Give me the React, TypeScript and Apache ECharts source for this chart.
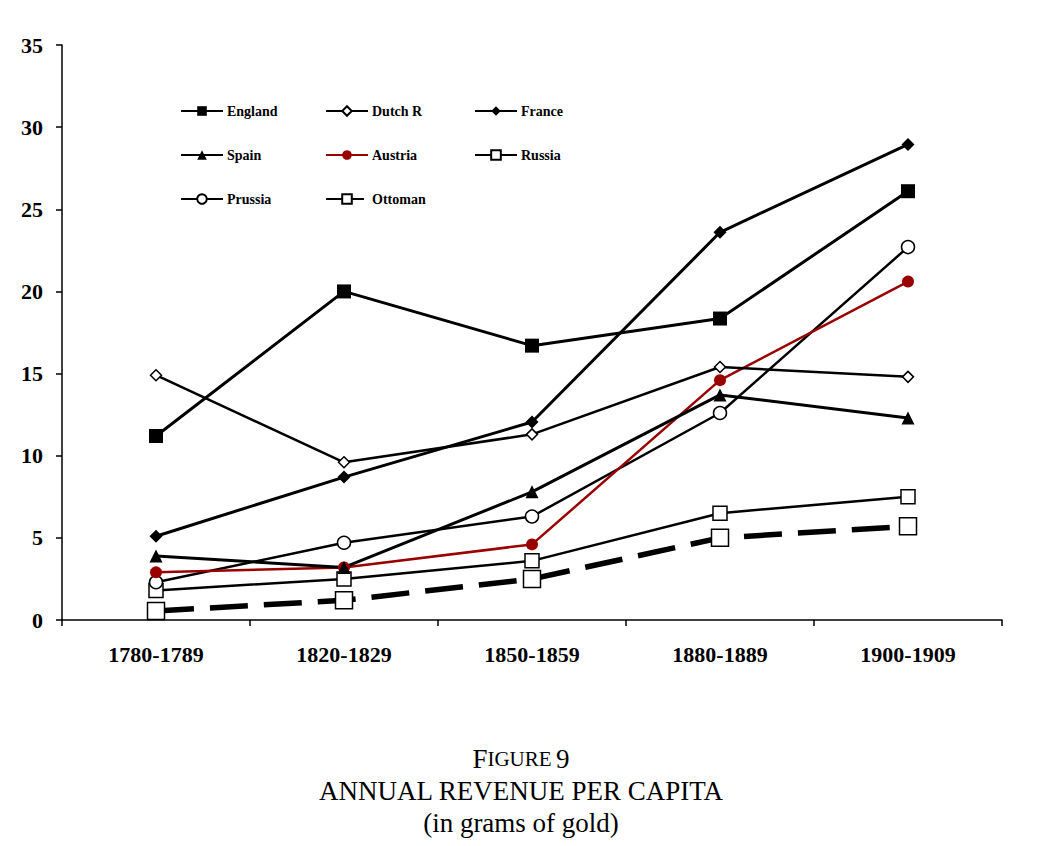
import React, { useEffect, useRef } from "react";
import * as echarts from "echarts";

const categories = ["1780-1789", "1820-1829", "1850-1859", "1880-1889", "1900-1909"];
const england = [11.2, 20.0, 16.7, 18.35, 26.1];
const dutchR = [14.9, 9.6, 11.3, 15.4, 14.8];
const france = [5.1, 8.7, 12.05, 23.6, 28.95];
const spain = [3.9, 3.2, 7.8, 13.7, 12.3];
const austria = [2.9, 3.2, 4.6, 14.6, 20.6];
const prussia = [2.3, 4.7, 6.3, 12.6, 22.7];
const russia = [1.8, 2.5, 3.6, 6.5, 7.5];
const ottoman = [0.55, 1.2, 2.5, 5.0, 5.7];
const yTicks = { min: 0, max: 35, interval: 5 };

const SERIF = "'Liberation Serif', 'DejaVu Serif', serif";
const RED = "#990000";

export default function App() {
  const ref = useRef<HTMLDivElement>(null);
  useEffect(() => {
    if (!ref.current) return;
    const chart = echarts.init(ref.current, null, { renderer: "svg" });
    const mk = (
      name: string,
      data: number[],
      symbol: string,
      size: number,
      color: string,
      fill: string,
      width: number,
      dashed?: number[]
    ) => ({
      name,
      type: "line",
      data,
      symbol,
      symbolSize: size,
      lineStyle: { color, width, type: dashed ? dashed : "solid" },
      itemStyle: { color: fill, borderColor: color, borderWidth: fill === "#ffffff" ? 1.5 : 0 },
      emphasis: { disabled: true },
      z: 2,
    });
    const legendBase = {
      orient: "vertical",
      top: 104,
      padding: 0,
      itemWidth: 42,
      itemHeight: 12,
      itemGap: 30,
      textStyle: { fontFamily: SERIF, fontWeight: "bold", fontSize: 14, color: "#000", padding: [0, 0, 0, -1] },
      selectedMode: false,
    };
    chart.setOption({
      animation: false,
      backgroundColor: "#ffffff",
      grid: { left: 62, right: 40, top: 45, bottom: 226, containLabel: false },
      legend: [
        { ...legendBase, left: 180, data: ["England", "Spain", "Prussia"] },
        { ...legendBase, left: 325, data: ["Dutch R", "Austria", "Ottoman"] },
        { ...legendBase, left: 474, data: ["France", "Russia"] },
      ],
      title: {
        left: "center",
        top: 738,
        text: "{b|F}{s|IGURE} {b|9}\n{b|ANNUAL REVENUE PER CAPITA}\n{b|(in grams of gold)}",
        textStyle: {
          fontFamily: SERIF,
          fontWeight: "normal",
          color: "#000",
          lineHeight: 32,
          rich: {
            b: { fontFamily: SERIF, fontSize: 27, color: "#000", lineHeight: 32 },
            s: { fontFamily: SERIF, fontSize: 21, color: "#000", lineHeight: 32 },
          },
        },
      },
      xAxis: {
        type: "category",
        data: categories,
        boundaryGap: true,
        axisLine: { lineStyle: { color: "#000", width: 1.5 } },
        axisTick: { show: true, length: 6, inside: false, lineStyle: { color: "#000", width: 1.5 } },
        axisLabel: { fontFamily: SERIF, fontWeight: "bold", fontSize: 22, color: "#000", margin: 23 },
        splitLine: { show: false },
      },
      yAxis: {
        type: "value",
        min: yTicks.min,
        max: yTicks.max,
        interval: yTicks.interval,
        axisLine: { show: true, lineStyle: { color: "#000", width: 1.5 } },
        axisTick: { show: true, length: 6, lineStyle: { color: "#000", width: 1.5 } },
        axisLabel: { fontFamily: SERIF, fontWeight: "bold", fontSize: 22, color: "#000", margin: 19 },
        splitLine: { show: false },
      },
      series: [
        mk("Ottoman", ottoman, "rect", 17, "#000", "#ffffff", 5.5, [38, 16]),
        mk("Russia", russia, "rect", 14, "#000", "#ffffff", 2.5),
        mk("Prussia", prussia, "circle", 13, "#000", "#ffffff", 2.5),
        mk("Austria", austria, "circle", 12, RED, RED, 2.5),
        mk("Spain", spain, "triangle", 13, "#000", "#000", 3),
        mk("France", france, "diamond", 13, "#000", "#000", 3),
        mk("Dutch R", dutchR, "diamond", 11, "#000", "#ffffff", 2.5),
        mk("England", england, "rect", 14, "#000", "#000", 3),
      ],
    });
    return () => chart.dispose();
  }, []);
  return (
    <div
      ref={ref}
      style={{ position: "fixed", left: 0, top: 0, width: 1042, height: 846, background: "#fff" }}
    />
  );
}
